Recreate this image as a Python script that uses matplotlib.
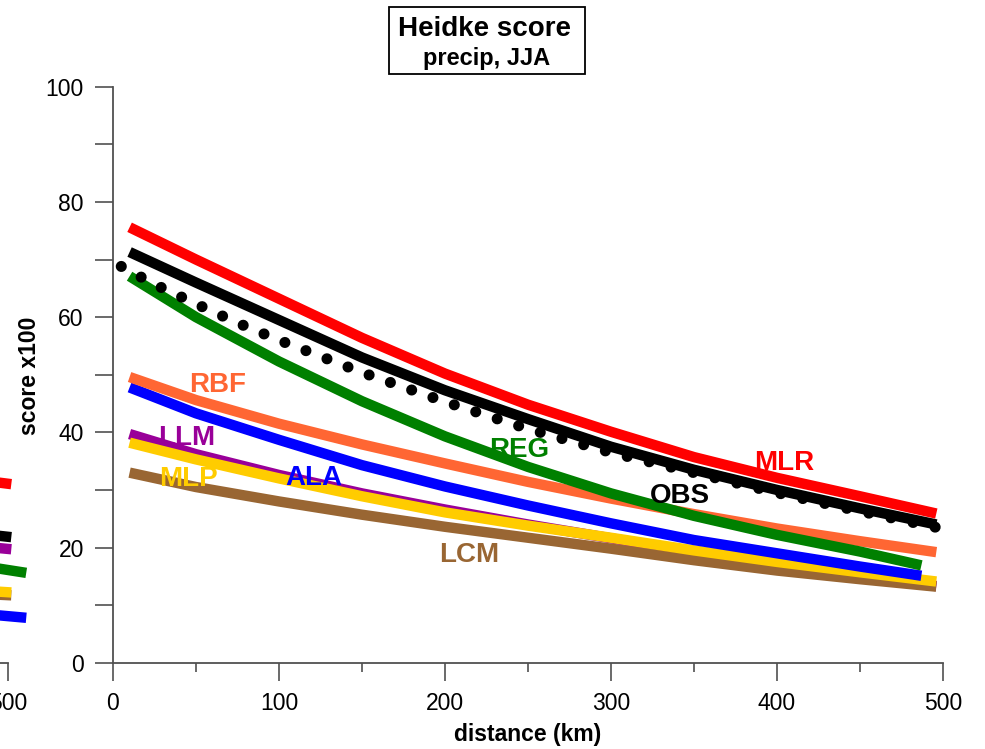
import matplotlib.pyplot as plt
from matplotlib.patches import Rectangle
from matplotlib.ticker import MultipleLocator

plt.rcParams['font.family'] = ['Liberation Sans', 'DejaVu Sans']

dist = [10, 50, 100, 150, 200, 250, 300, 350, 400, 450, 496]
dist_short = [10, 50, 100, 150, 200, 250, 300, 350, 400, 450, 487]
dist_obs = [5, 25, 50, 75, 100, 150, 200, 250, 300, 350, 400, 450, 496]

# Heidke score x100
mlr = [75.6, 70.0, 63.2, 56.4, 50.2, 44.8, 40.1, 35.7, 32.1, 28.9, 25.9]
obs = [71.3, 66.0, 59.5, 53.0, 47.3, 42.3, 37.5, 33.5, 30.0, 26.8, 24.0]
rbf = [49.6, 45.6, 41.5, 37.9, 34.6, 31.4, 28.5, 25.8, 23.3, 21.1, 19.2]
llm = [39.7, 36.2, 32.6, 29.4, 26.6, 24.0, 21.6, 19.2, 17.1, 15.1, 13.3]
mlp = [38.2, 35.3, 32.0, 28.9, 26.1, 23.8, 21.7, 19.5, 17.5, 15.7, 14.1]
lcm = [33.0, 30.5, 28.0, 25.7, 23.6, 21.7, 19.8, 17.8, 16.0, 14.5, 13.2]
reg = [67.1, 60.0, 52.3, 45.4, 39.3, 34.0, 29.4, 25.5, 22.2, 19.3, 16.9]
ala = [47.8, 43.3, 38.7, 34.3, 30.6, 27.3, 24.2, 21.3, 19.0, 16.7, 15.1]
obs_dot = [68.8, 65.7, 62.3, 59.0, 56.0, 50.4, 45.3, 40.6, 36.5, 33.0, 29.5, 26.3, 23.5]

# label text and its spot (x, baseline y)
labels = ['RBF', 'LLM', 'MLP', 'ALA', 'LCM', 'REG', 'OBS', 'MLR']
label_x = [63.2, 44.2, 45.6, 121, 214.5, 245, 341.6, 404.3]
label_y = [47.0, 37.8, 30.6, 30.85, 17.5, 35.8, 27.7, 33.5]

# ends of the curves of the neighbouring panel (cut off at the left edge)
nb_x = [480, 502]
nb_x_long = [480, 511]
nb_mlr = [31.8, 31.0]
nb_obs = [22.5, 21.8]
nb_llm = [20.3, 19.7]
nb_reg = [17.0, 15.6]
nb_lcm = [12.0, 11.7]
nb_mlp = [12.6, 12.2]
nb_ala = [8.6, 7.8]

colors = {'MLR': '#FF0000', 'OBS': '#000000', 'RBF': '#FF6633', 'LLM': '#990099',
          'MLP': '#FFCC00', 'LCM': '#996633', 'REG': '#008000', 'ALA': '#0000FF'}
axcol = '#505050'
lw = 7.5

fig = plt.figure(figsize=(9.85, 7.49), dpi=100)


def style_axis(a):
    a.set_xlim(0, 500)
    a.set_ylim(0, 100)
    a.spines['top'].set_visible(False)
    a.spines['right'].set_visible(False)
    for s in ['left', 'bottom']:
        a.spines[s].set_color(axcol)
        a.spines[s].set_linewidth(1.3)
    a.xaxis.set_major_locator(MultipleLocator(100))
    a.xaxis.set_minor_locator(MultipleLocator(50))
    a.yaxis.set_major_locator(MultipleLocator(20))
    a.yaxis.set_minor_locator(MultipleLocator(10))
    a.tick_params(which='major', direction='out', length=13, width=1.2, color=axcol,
                  labelsize=16.5, pad=8)
    a.tick_params(axis='x', which='minor', direction='out', length=6.5, width=1.2, color=axcol)
    a.tick_params(axis='y', which='minor', direction='out', length=13, width=1.2, color=axcol)
    a.patch.set_visible(False)


# neighbouring panel, mostly outside the figure
nb = fig.add_axes([-0.8345, 0.1152, 0.8426, 0.769])
style_axis(nb)
nb.spines['left'].set_visible(False)
nb.tick_params(axis='y', which='both', left=False, labelleft=False)
nb.plot(nb_x, nb_llm, color=colors['LLM'], lw=lw, clip_on=False, solid_capstyle='butt')
nb.plot(nb_x, nb_lcm, color=colors['LCM'], lw=lw, clip_on=False, solid_capstyle='butt')
nb.plot(nb_x, nb_mlp, color=colors['MLP'], lw=lw, clip_on=False, solid_capstyle='butt')
nb.plot(nb_x_long, nb_ala, color=colors['ALA'], lw=lw, clip_on=False, solid_capstyle='butt')
nb.plot(nb_x_long, nb_reg, color=colors['REG'], lw=lw, clip_on=False, solid_capstyle='butt')
nb.plot(nb_x, nb_obs, color=colors['OBS'], lw=lw, clip_on=False, solid_capstyle='butt')
nb.plot(nb_x, nb_mlr, color=colors['MLR'], lw=lw, clip_on=False, solid_capstyle='butt')

ax = fig.add_axes([0.1147, 0.1152, 0.8426, 0.769])
style_axis(ax)

ax.plot(dist, llm, color=colors['LLM'], lw=lw, solid_capstyle='butt')
ax.plot(dist, lcm, color=colors['LCM'], lw=lw, solid_capstyle='butt')
ax.plot(dist, mlp, color=colors['MLP'], lw=lw, solid_capstyle='butt')
ax.plot(dist_short, ala, color=colors['ALA'], lw=lw, solid_capstyle='butt')
ax.plot(dist, rbf, color=colors['RBF'], lw=lw, solid_capstyle='butt')
ax.plot(dist_short, reg, color=colors['REG'], lw=lw, solid_capstyle='butt')
ax.plot(dist_obs, obs_dot, color='black', lw=8, linestyle=(0, (0.001, 2.03)),
        dash_capstyle='round')
ax.plot(dist, obs, color=colors['OBS'], lw=lw, solid_capstyle='butt')
ax.plot(dist, mlr, color=colors['MLR'], lw=lw, solid_capstyle='butt')

for name, lx, ly in zip(labels, label_x, label_y):
    ax.text(lx, ly, name, color=colors[name], fontsize=20, fontweight='bold',
            ha='center', va='baseline', zorder=5)

# axis titles
fig.text(528 / 985, 1 - 741 / 749, 'distance (km)', fontsize=16.5, fontweight='bold',
         ha='center', va='baseline')
fig.text(29 / 985, 1 - 376 / 749, 'score x100', fontsize=16.5, fontweight='bold',
         rotation=90, ha='center', va='center')

# boxed title
fig.patches.append(Rectangle((389 / 985, 1 - 74 / 749), 196 / 985, 67 / 749,
                             transform=fig.transFigure, fill=False, edgecolor='black',
                             linewidth=1.3))
fig.text(484 / 985, 1 - 36 / 749, 'Heidke score', fontsize=20, fontweight='bold',
         ha='center', va='baseline')
fig.text(487 / 985, 1 - 65 / 749, 'precip, JJA', fontsize=17, fontweight='bold',
         ha='center', va='baseline')

fig.savefig('out.png', dpi=100)
